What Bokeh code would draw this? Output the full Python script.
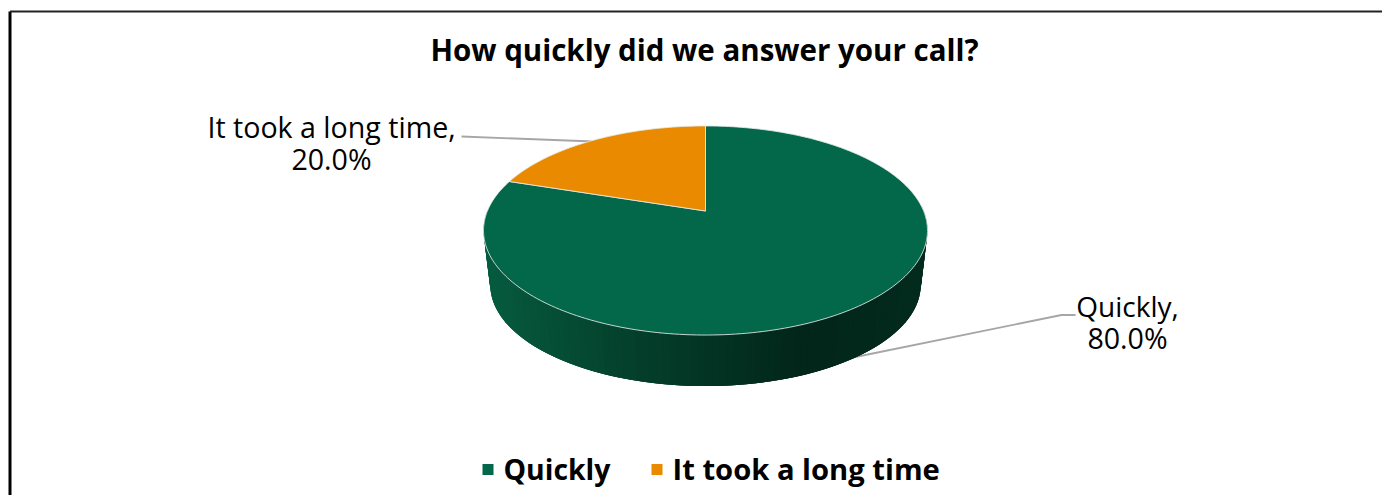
import numpy as np
from bokeh.plotting import figure
from bokeh.models import Range1d
from bokeh.core.properties import value
from bokeh.embed import file_html
from bokeh.resources import INLINE

categories = ["Quickly", "It took a long time"]
shares = [80.0, 20.0]
colors = ["#03674A", "#E98A00"]
title = "How quickly did we answer your call?"

W, H = 1382, 495
p = figure(width=W, height=H, output_backend="svg", toolbar_location=None,
           x_range=Range1d(0, W), y_range=Range1d(H, 0),
           min_border=0, min_border_left=0, min_border_right=0, min_border_top=0, min_border_bottom=0,
           outline_line_color=None, background_fill_color="white", border_fill_color="white")
p.xaxis.visible = False
p.yaxis.visible = False
p.grid.visible = False

FONT = value("Open Sans")
TXT = "#000000"

# perspective projection of the disc
K = 0.1866
CX = 705.0
def top_rim(t):
    d = 1 + K * np.sin(t)
    return CX + 218.1 * np.cos(t) / d, 210.5 - 100.9 * np.sin(t) / d
def low_rim(t):
    d = 1 + K * np.sin(t)
    return CX + 211.5 * np.cos(t) / d, 265.5 - 97.7 * np.sin(t) / d

# frame
p.line([9.5, 9.5], [503, 11], line_color="#000000", line_width=3)
p.line([9.5, 1390], [11, 11], line_color="#222222", line_width=2)

# leader lines (drawn under the pie)
p.line([461, 593], [136, 141], line_color="#a6a6a6", line_width=1.8)
p.line([1075, 1061, 850], [314.5, 314.5, 357.5], line_color="#a6a6a6", line_width=1.8)

# side wall: overlapping strips so no seams show
stops_x = [484, 560, 640, 720, 800, 870, 927]
stops_c = [(6, 92, 64), (5, 77, 53), (4, 62, 43), (3, 50, 34), (2, 38, 26), (2, 40, 27), (3, 44, 30)]
ts = np.linspace(np.pi * 0.985, np.pi * 2.015, 121)
for i in range(len(ts) - 1):
    a = ts[i]
    b = ts[min(i + 3, len(ts) - 1)]
    x1, y1 = top_rim(a); x2, y2 = top_rim(b)
    x3, y3 = low_rim(b); x4, y4 = low_rim(a)
    xm = (top_rim(a)[0] + top_rim(ts[i + 1])[0] + low_rim(a)[0] + low_rim(ts[i + 1])[0]) / 4
    c = [int(round(np.interp(xm, stops_x, [s[j] for s in stops_c]))) for j in range(3)]
    col = "#%02x%02x%02x" % tuple(c)
    p.patch([x1, x2, x3, x4], [y1, y2, y3, y4], fill_color=col, line_color=None)

# top slices: clockwise from 12 o'clock
ang = np.pi / 2
for cat, share, col in zip(categories, shares, colors):
    sweep = share / sum(shares) * 2 * np.pi
    t = np.linspace(ang, ang - sweep, 240)
    rx, ry = top_rim(t)
    p.patch(np.r_[CX, rx], np.r_[210.5, ry], fill_color=col, line_color="#e4e9e6", line_width=1, line_alpha=0.85)
    ang -= sweep

p.text([704], [49], text=[title], text_font=FONT, text_font_style="bold", text_font_size="29.5px",
       text_color=TXT, text_align="center", text_baseline="middle")

LBL = "28.6px"
p.text([1127], [305], text=[f"{categories[0]},"], text_font=FONT, text_font_size="28px", text_color=TXT,
       text_align="center", text_baseline="middle")
p.text([1127], [337], text=[f"{shares[0]:.1f}%"], text_font=FONT, text_font_size=LBL, text_color=TXT,
       text_align="center", text_baseline="middle")
p.text([331], [126], text=[f"{categories[1]},"], text_font=FONT, text_font_size=LBL, text_color=TXT,
       text_align="center", text_baseline="middle")
p.text([331], [158], text=[f"{shares[1]:.1f}%"], text_font=FONT, text_font_size=LBL, text_color=TXT,
       text_align="center", text_baseline="middle")

# legend
for sx, tx, cat, col, fs in zip([487.5, 656.5], [503, 672], categories, colors, ["28.4px", "29.2px"]):
    p.rect([sx], [469], width=11, height=11, fill_color=col, line_color=None)
    p.text([tx], [468], text=[cat], text_font=FONT, text_font_style="bold", text_font_size=fs,
           text_color=TXT, text_align="left", text_baseline="middle")

open("out.html", "w").write(file_html(p, INLINE))
